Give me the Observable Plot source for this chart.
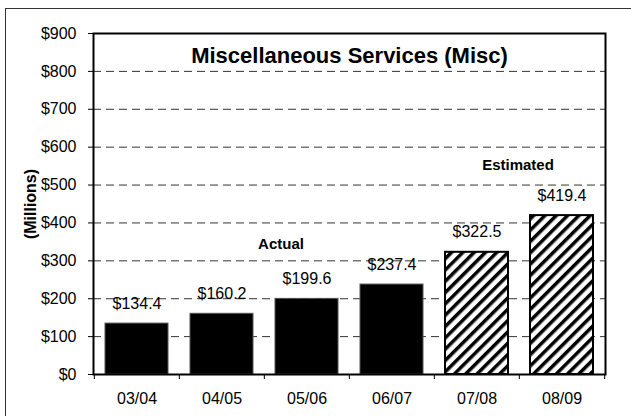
<!DOCTYPE html>
<html>
<head>
<meta charset="utf-8">
<script src="https://cdn.jsdelivr.net/npm/d3@7"></script>
<script src="https://cdn.jsdelivr.net/npm/@observablehq/plot@0.6"></script>
<style>
  html, body { margin: 0; padding: 0; background: #fff; overflow: hidden; }
  #wrap { position: relative; width: 631px; height: 416px; }
  #border { position: absolute; left: 5px; top: 8px; width: 700px; height: 500px; border: 1px solid #333; box-sizing: border-box; }
  #chart { position: absolute; left: 0; top: 0; }
</style>
</head>
<body>
<svg width="0" height="0" style="position:absolute">
  <defs>
    <pattern id="hatch" patternUnits="userSpaceOnUse" width="8" height="8" patternTransform="rotate(45)">
      <rect width="8" height="8" fill="#fff"></rect>
      <rect x="0" y="0" width="3.5" height="8" fill="#000"></rect>
    </pattern>
  </defs>
</svg>
<div id="wrap">
  <div id="border"></div>
  <div id="chart"></div>
</div>
<script>
const categories = ["03/04", "04/05", "05/06", "06/07", "07/08", "08/09"];
const values = [134.4, 160.2, 199.6, 237.4, 322.5, 419.4];
const kinds = ["Actual", "Actual", "Actual", "Actual", "Estimated", "Estimated"];
const yTicks = [0, 100, 200, 300, 400, 500, 600, 700, 800, 900];
const gridValues = [100, 200, 300, 400, 500, 600, 700, 800];
const title = "Miscellaneous Services (Misc)";
const yLabel = "(Millions)";
const annotationTexts = ["Actual", "Estimated"];
const annotationX = ["05/06", "08/09"];
const annotationY = [345, 552];

const data = categories.map((c, i) => ({cat: c, value: values[i], kind: kinds[i]}));
const actual = data.filter(d => d.kind === "Actual");
const estimated = data.filter(d => d.kind === "Estimated");

const W = 631, H = 416;
const mL = 93, mR = 26, mT = 33, mB = 42;
const step = (W - mL - mR) / categories.length;
const font = "Arial, 'Liberation Sans', sans-serif";

const chart = Plot.plot({
  width: W,
  height: H,
  marginLeft: mL,
  marginRight: mR,
  marginTop: mT,
  marginBottom: mB,
  style: {fontFamily: font, fontSize: "16px", color: "#000", background: "transparent"},
  x: {domain: categories, paddingInner: 0.262, paddingOuter: 0.131, label: null},
  y: {domain: [0, 900], label: null},
  marks: [
    Plot.ruleY(gridValues, {stroke: "#333", strokeWidth: 1, strokeDasharray: "8,5"}),
    Plot.barY(actual, {x: "cat", y: "value", fill: "#000", stroke: "#555", strokeWidth: 1}),
    Plot.barY(estimated, {x: "cat", y: "value", fill: "url(#hatch)", stroke: "#000", strokeWidth: 2}),
    Plot.text(data, {x: "cat", y: "value", text: d => "$" + d.value.toFixed(1), dy: -20, fontSize: 16}),
    Plot.text([0], {x: () => annotationX[0], y: () => annotationY[0], text: () => annotationTexts[0], dx: -26, fontWeight: "bold", fontSize: 15}),
    Plot.text([1], {x: () => annotationX[1], y: () => annotationY[1], text: () => annotationTexts[1], dx: -44, fontWeight: "bold", fontSize: 15}),
    Plot.text([title], {frameAnchor: "top", lineAnchor: "middle", dy: 22, fontWeight: "bold", fontSize: 22}),
    Plot.text([yLabel], {frameAnchor: "left", textAnchor: "middle", lineAnchor: "middle", rotate: -90, dx: -63, fontWeight: "bold", fontSize: 16}),
    Plot.axisY({ticks: yTicks, tickFormat: d => "$" + d, tickSize: 5, tickPadding: 12, label: null}),
    Plot.axisX({tickSize: 0, tickPadding: 18, label: null}),
    Plot.ruleX(categories, {y1: 0, y2: 0, insetBottom: -5, dx: -step / 2, stroke: "#000", strokeWidth: 1}),
    Plot.ruleX([categories[categories.length - 1]], {y1: 0, y2: 0, insetBottom: -5, dx: step / 2, stroke: "#000", strokeWidth: 1}),
    Plot.frame({stroke: "#000", strokeWidth: 2})
  ]
});
document.getElementById("chart").appendChild(chart);
</script>
</body>
</html>
